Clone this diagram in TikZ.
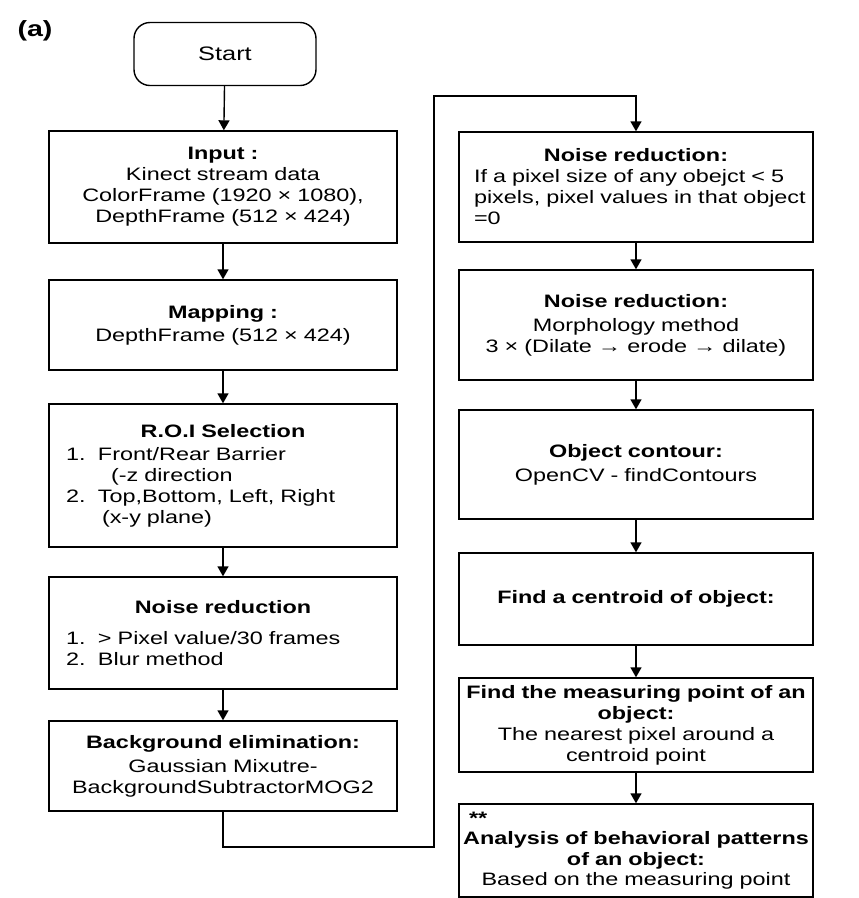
\documentclass[tikz,border=0pt]{standalone}
\usepackage{fontspec}
\setmainfont{Liberation Sans}[FakeStretch=1.3]
\usetikzlibrary{arrows.meta}
\newcommand{\lft}[1]{\makebox[\linewidth][l]{#1}}
\newcommand{\ctr}[1]{\makebox[\linewidth]{#1}}
\newcommand{\itm}[2]{\makebox[\linewidth][l]{\hspace{13pt}\makebox[32pt][l]{#1}#2}}
\begin{document}
\begin{tikzpicture}[x=1pt, y=-1pt,
  box/.style={draw=black, line width=1.4pt, align=center, inner sep=4pt, font=\fontsize{18}{21}\selectfont},
  lbox/.style={box, minimum width=348pt, text width=340pt},
  rbox/.style={box, minimum width=354pt, text width=346pt},
  flow/.style={-{Triangle[width=11pt,length=10pt]}, line width=1.4pt, draw=black}]
\useasboundingbox (0,0) rectangle (859,898);
\node[font=\fontsize{22}{26}\selectfont\bfseries] (tag) at (35,31) {(a)};
% left column
\node[draw=black, line width=1.4pt, rounded corners=16pt, minimum width=182pt, minimum height=63pt, font=\fontsize{19.5}{24}\selectfont] (start) at (225,54) {Start};
\node[lbox, minimum height=112pt] (input) at (223,187) {\textbf{Input :}\\Kinect stream data\\ColorFrame (1920 × 1080),\\DepthFrame (512 × 424)};
\node[lbox, minimum height=90pt] (mapping) at (223,325) {\textbf{Mapping :}\\[2pt]DepthFrame (512 × 424)};
\node[lbox, minimum height=143pt] (roi) at (223,475.5) {\textbf{R.O.I Selection}\\[2pt]\itm{1.}{Front/Rear Barrier}\\\lft{\hspace{58pt}(-z direction}\\\itm{2.}{Top,Bottom, Left, Right}\\\lft{\hspace{49pt}(x-y plane)}};
\node[lbox, minimum height=112pt] (noiseA) at (223,633) {\textbf{Noise reduction}\\[10pt]\itm{1.}{> Pixel value/30 frames}\\\itm{2.}{Blur method}\\[10pt]};
\node[lbox, minimum height=90pt] (backgr) at (223,766) {\textbf{Background elimination:}\\[3pt]Gaussian Mixutre-\\\ctr{BackgroundSubtractorMOG2}};
% right column
\node[rbox, minimum height=110pt] (noiseB) at (636,187) {\textbf{Noise reduction:}\\\lft{\hspace{11pt}If a pixel size of any obejct < 5}\\\lft{\hspace{11pt}pixels, pixel values in that object}\\\lft{\hspace{11pt}=0}};
\node[rbox, minimum height=110pt] (morph) at (636,325) {\textbf{Noise reduction:}\\[3pt]Morphology method\\3 × (Dilate → erode → dilate)};
\node[rbox, minimum height=109pt] (contour) at (636,464.5) {\textbf{Object contour:}\\[3pt]OpenCV - findContours};
\node[rbox, minimum height=92pt] (centroid) at (636,599) {\textbf{Find a centroid of object:}};
\node[rbox, minimum height=94pt] (measure) at (636,725) {\ctr{\textbf{Find the measuring point of an}}\\\textbf{object:}\\The nearest pixel around a\\centroid point};
\node[rbox, minimum height=93pt, inner sep=2pt, font=\fontsize{18}{20.5}\selectfont] (analysis) at (636,850.5) {\lft{\hspace{6pt}\textbf{**}}\\\ctr{\textbf{Analysis of behavioral patterns}}\\\textbf{of an object:}\\Based on the measuring point};
% connectors
\coordinate (turnA) at (434,847);
\coordinate (turnB) at (434,96);
\path [flow] (start) edge (input);
\path [flow] (input) edge (mapping);
\path [flow] (mapping) edge (roi);
\path [flow] (roi) edge (noiseA);
\path [flow] (noiseA) edge (backgr);
\draw [flow] (backgr.south) |- (turnA) -- (turnB) -| (noiseB.north);
\path [flow] (noiseB) edge (morph);
\path [flow] (morph) edge (contour);
\path [flow] (contour) edge (centroid);
\path [flow] (centroid) edge (measure);
\path [flow] (measure) edge (analysis);
\end{tikzpicture}
\end{document}
